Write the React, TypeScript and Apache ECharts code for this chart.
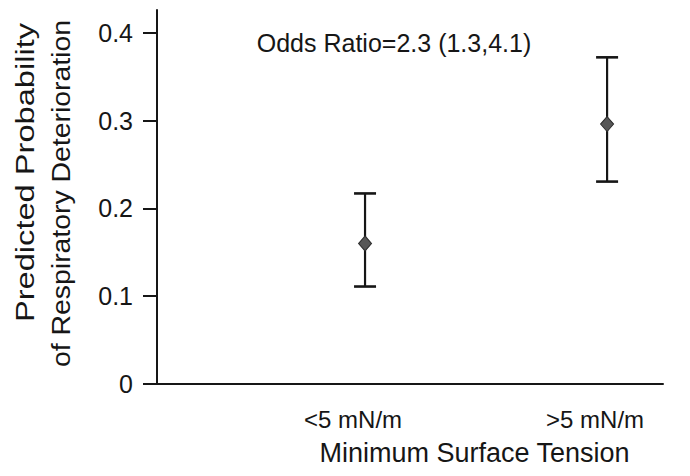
import React, { useEffect, useRef } from "react";
import * as echarts from "echarts";

const categories = ["<5 mN/m", ">5 mN/m"];
const categoryPos = [1, 2];
const estimates = [0.16, 0.296];
const lowerCI = [0.111, 0.2305];
const upperCI = [0.217, 0.372];
const yTicks = [0, 0.1, 0.2, 0.3, 0.4];
const annotation = "Odds Ratio=2.3 (1.3,4.1)";
const xTitle = "Minimum Surface Tension";
const yTitleLines = ["Predicted Probability", "of Respiratory Deterioration"];

const FONT = "'Liberation Sans', Arial, Helvetica, sans-serif";
const INK = "#161616";

export default function App() {
  const ref = useRef<HTMLDivElement>(null);

  useEffect(() => {
    if (!ref.current) return;
    const chart = echarts.init(ref.current, undefined, { renderer: "svg" });

    const errData = categoryPos.map((x, i) => [x, lowerCI[i], upperCI[i]]);
    const pointData = categoryPos.map((x, i) => [x, estimates[i]]);

    chart.setOption({
      animation: false,
      backgroundColor: "#ffffff",
      grid: { left: 157, right: 27, top: 10, bottom: 92, containLabel: false },
      xAxis: {
        type: "value",
        min: 0.1405,
        max: 2.231,
        splitLine: { show: false },
        axisTick: { show: false },
        axisLine: { show: true, onZero: false, lineStyle: { color: INK, width: 2 } },
        axisLabel: {
          customValues: categoryPos,
          formatter: (v: number) => {
            const i = categoryPos.indexOf(v);
            return i >= 0 ? categories[i] : "";
          },
          fontSize: 24,
          fontFamily: FONT,
          color: INK,
          margin: 23,
          padding: [0, 24, 0, 0],
        },
      },
      yAxis: {
        type: "value",
        min: 0,
        max: 0.4259,
        interval: 0.1,
        splitLine: { show: false },
        axisLine: { show: true, onZero: false, lineStyle: { color: INK, width: 2 } },
        axisTick: {
          show: true,
          inside: false,
          length: 14,
          customValues: yTicks,
          lineStyle: { color: INK, width: 2 },
        },
        axisLabel: {
          customValues: yTicks,
          formatter: (v: number) => (v === 0 ? "0" : String(Math.round(v * 10) / 10)),
          fontSize: 25,
          fontFamily: FONT,
          color: INK,
          margin: 24,
        },
      },
      series: [
        {
          type: "custom",
          data: errData,
          encode: { x: 0, y: [1, 2] },
          z: 2,
          renderItem: (params: any, api: any) => {
            const x = api.value(0);
            const lo = api.coord([x, api.value(1)]);
            const hi = api.coord([x, api.value(2)]);
            const hw = 11;
            const st = { stroke: INK, lineWidth: 2.2 };
            return {
              type: "group",
              children: [
                { type: "line", shape: { x1: lo[0], y1: lo[1], x2: hi[0], y2: hi[1] }, style: st },
                { type: "line", shape: { x1: lo[0] - hw, y1: lo[1], x2: lo[0] + hw, y2: lo[1] }, style: { stroke: INK, lineWidth: 2.6 } },
                { type: "line", shape: { x1: hi[0] - hw, y1: hi[1], x2: hi[0] + hw, y2: hi[1] }, style: { stroke: INK, lineWidth: 2.6 } },
              ],
            };
          },
        },
        {
          type: "scatter",
          data: pointData,
          symbol: "diamond",
          symbolSize: [13, 15],
          z: 3,
          itemStyle: { color: "#575757", borderColor: "#2e2e2e", borderWidth: 1, opacity: 1 },
        },
      ],
      graphic: [
        {
          type: "text",
          x: 394,
          y: 43,
          style: { text: annotation, fontSize: 25, fontFamily: FONT, fill: INK, align: "center", verticalAlign: "middle" },
        },
        {
          type: "text",
          x: 474.5,
          y: 453,
          style: { text: xTitle, fontSize: 27, fontFamily: FONT, fill: INK, align: "center", verticalAlign: "middle" },
        },
        {
          type: "text",
          x: 25,
          y: 172.5,
          rotation: Math.PI / 2,
          scaleX: 1.305,
          style: { text: yTitleLines[0], fontSize: 25, fontFamily: FONT, fill: INK, align: "center", verticalAlign: "middle" },
        },
        {
          type: "text",
          x: 62,
          y: 193.5,
          rotation: Math.PI / 2,
          scaleX: 1.135,
          style: { text: yTitleLines[1], fontSize: 25, fontFamily: FONT, fill: INK, align: "center", verticalAlign: "middle" },
        },
      ],
    });

    return () => chart.dispose();
  }, []);

  return (
    <div
      ref={ref}
      style={{ position: "fixed", left: 0, top: 0, width: 690, height: 476, background: "#fff" }}
    />
  );
}
